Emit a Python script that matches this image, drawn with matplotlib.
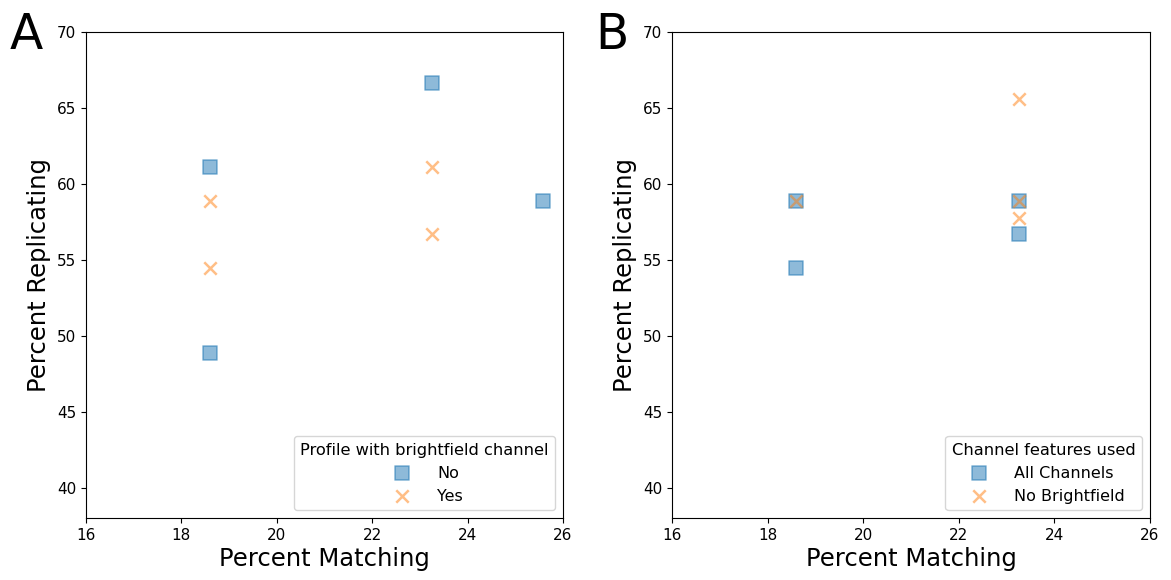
import matplotlib
matplotlib.use("Agg")
import matplotlib.pyplot as plt

# Panel A data
a_no_x = [18.60, 18.60, 23.26, 25.58]
a_no_y = [61.11, 48.89, 66.67, 58.89]
a_yes_x = [18.60, 18.60, 23.26, 23.26]
a_yes_y = [58.89, 54.44, 61.11, 56.67]

# Panel B data
b_all_x = [18.60, 18.60, 23.26, 23.26]
b_all_y = [58.89, 54.44, 58.89, 56.67]
b_nobf_x = [18.60, 23.26, 23.26, 23.26]
b_nobf_y = [58.89, 65.56, 58.89, 57.78]

xticks = [16, 18, 20, 22, 24, 26]
yticks = [40, 45, 50, 55, 60, 65, 70]

fig = plt.figure(figsize=(11.71, 5.8), dpi=100)
axA = fig.add_axes([86/1171, 1-518/580, 477/1171, 486/580])
axB = fig.add_axes([672/1171, 1-518/580, 478/1171, 486/580])

blue = "#1f77b4"
orange = "#ff7f0e"

def draw(ax, x1, y1, l1, x2, y2, l2, title, letter):
    ax.scatter(x1, y1, marker="s", s=95, color=blue, alpha=0.5, label=l1, linewidths=1.2, edgecolors=blue)
    ax.scatter(x2, y2, marker="x", s=80, color=orange, alpha=0.5, label=l2, linewidths=1.8)
    ax.set_xlim(16, 26)
    ax.set_ylim(38, 70)
    ax.set_xticks(xticks)
    ax.set_yticks(yticks)
    ax.tick_params(labelsize=11)
    ax.set_xlabel("Percent Matching", fontsize=17.5, labelpad=3)
    ax.set_ylabel("Percent Replicating", fontsize=17.5)
    ax.legend(title=title, loc="lower right", fontsize=11.5, title_fontsize=11.7,
              handletextpad=1.2, borderaxespad=0.5)
    ax.text(-0.160, 0.994, letter, transform=ax.transAxes, fontsize=35, va="center", ha="left")

draw(axA, a_no_x, a_no_y, "No", a_yes_x, a_yes_y, "Yes", "Profile with brightfield channel", "A")
draw(axB, b_all_x, b_all_y, "All Channels", b_nobf_x, b_nobf_y, "No Brightfield", "Channel features used", "B")

fig.savefig("out.png", dpi=100)
